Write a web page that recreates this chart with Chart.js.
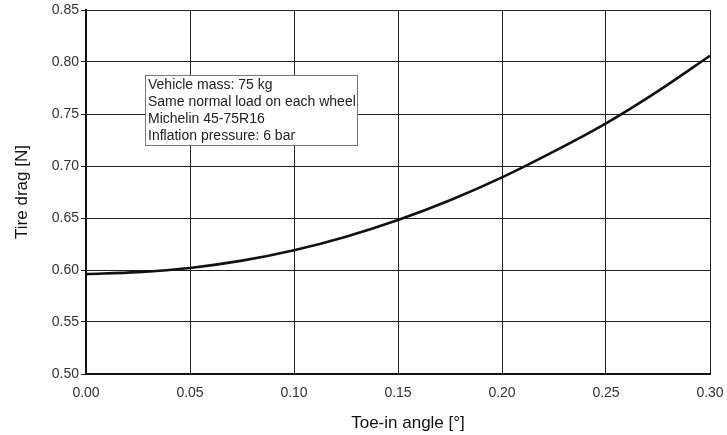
<!DOCTYPE html>
<html><head><meta charset="utf-8">
<script src="https://cdn.jsdelivr.net/npm/chart.js@4"></script>
<style>html,body{margin:0;padding:0;background:#fff}#w{width:727px;height:435px}</style>
</head><body><div id="w"><canvas id="c" width="727" height="435"></canvas></div>
<script>
const toeIn = [0, 0.025, 0.05, 0.075, 0.10, 0.125, 0.15, 0.175, 0.20, 0.225, 0.25, 0.275, 0.30];
const tireDrag = [0.596, 0.598, 0.602, 0.609, 0.619, 0.632, 0.648, 0.667, 0.689, 0.714, 0.741, 0.772, 0.806];
const noteLines = ["Vehicle mass: 75 kg", "Same normal load on each wheel", "Michelin 45-75R16", "Inflation pressure: 6 bar"];
const xTitle = "Toe-in angle [°]";
const yTitle = "Tire drag [N]";
const FONT = "'Liberation Sans', Arial, sans-serif";

const notePlugin = {
  id: 'note',
  afterDatasetsDraw(chart) {
    const ctx = chart.ctx, xs = chart.scales.x, ys = chart.scales.y;
    const left = Math.round(xs.getPixelForValue(0.0285)), top = Math.round(ys.getPixelForValue(0.7875));
    ctx.save();
    ctx.font = "14px " + FONT;
    const w = 212, lh = 17, h = noteLines.length * lh + 2;
    ctx.fillStyle = '#fff';
    ctx.fillRect(left, top, w, h);
    ctx.strokeStyle = '#777';
    ctx.lineWidth = 1;
    ctx.strokeRect(left + 0.5, top + 0.5, w, h);
    ctx.fillStyle = '#222';
    ctx.textBaseline = 'middle';
    noteLines.forEach((t, i) => ctx.fillText(t, left + 3, top + 10 + i * lh));
    // x axis title, slightly right of axis centre as in the reference
    ctx.font = "17px " + FONT;
    ctx.fillStyle = '#111';
    ctx.textAlign = 'center';
    ctx.fillText(xTitle, (xs.left + xs.right) / 2 + 10, chart.height - 12);
    ctx.restore();
  }
};

new Chart(document.getElementById('c'), {
  type: 'line',
  data: { datasets: [{ data: toeIn.map((x, i) => ({ x, y: tireDrag[i] })), borderColor: '#111', borderWidth: 2.6, pointRadius: 0, cubicInterpolationMode: 'monotone', fill: false }] },
  options: {
    responsive: false, animation: false,
    layout: { padding: { top: 10, right: 17, bottom: 0, left: 0 } },
    plugins: { legend: { display: false }, tooltip: { enabled: false } },
    scales: {
      x: {
        type: 'linear', min: 0, max: 0.30,
        afterFit: s => { s.height = 61; s.paddingLeft = 0; s.paddingRight = 0; },
        grid: { color: '#222', lineWidth: 1, tickLength: 0, drawTicks: false },
        border: { color: '#111', width: 2 },
        ticks: { stepSize: 0.05, padding: 11, color: '#333', font: { family: FONT, size: 14 }, callback: v => v.toFixed(2) },
        title: { display: false, text: xTitle }
      },
      y: {
        min: 0.50, max: 0.85,
        afterFit: s => { s.width = 86; s.paddingTop = 0; s.paddingBottom = 0; },
        grid: { color: '#222', lineWidth: 1, tickLength: 5 },
        border: { color: '#111', width: 2 },
        ticks: { stepSize: 0.05, padding: 2, color: '#333', font: { family: FONT, size: 14 }, callback: v => v.toFixed(2) },
        title: { display: true, text: yTitle, color: '#111', font: { family: FONT, size: 17 }, padding: { top: 12, bottom: 4 } }
      }
    }
  },
  plugins: [notePlugin]
});
</script></body></html>
